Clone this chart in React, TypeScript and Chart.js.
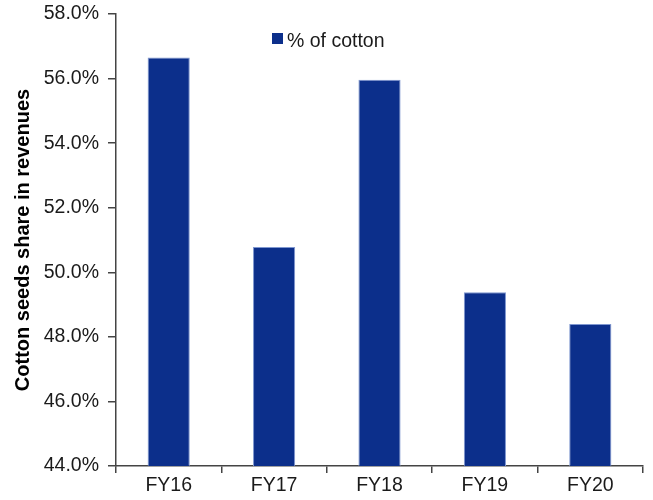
import React, { useEffect, useRef } from "react";
import { Chart, registerables } from "chart.js";

Chart.register(...registerables);

const categories = ["FY16", "FY17", "FY18", "FY19", "FY20"];
const cottonShare = [56.65, 50.78, 55.96, 49.38, 48.4];
const seriesLabel = "% of cotton";
const yTitle = "Cotton seeds share in revenues";

const FONT = "'Liberation Sans', Arial, sans-serif";
const BAR = "#0c2f8b";

const legendPlugin = {
  id: "customLegend",
  afterDraw(chart: any) {
    const ctx = chart.ctx;
    ctx.save();
    ctx.fillStyle = BAR;
    ctx.fillRect(272, 33, 11, 11);
    ctx.fillStyle = "#1a1a1a";
    ctx.font = `19.5px ${FONT}`;
    ctx.textBaseline = "alphabetic";
    ctx.textAlign = "left";
    ctx.fillText(seriesLabel, 287, 46.5);
    ctx.restore();
  },
};

export default function App() {
  const ref = useRef<HTMLCanvasElement>(null);
  useEffect(() => {
    if (!ref.current) return;
    const chart = new Chart(ref.current, {
      type: "bar",
      data: {
        labels: categories,
        datasets: [
          {
            label: seriesLabel,
            data: cottonShare,
            backgroundColor: BAR,
            borderColor: "#7f97d0",
            borderWidth: 1,
            categoryPercentage: 1,
            barPercentage: 0.4,
          },
        ],
      },
      options: {
        responsive: false,
        animation: false,
        maintainAspectRatio: false,
        layout: { padding: { top: 14, right: 10, left: 0, bottom: 0 } },
        plugins: { legend: { display: false }, tooltip: { enabled: false } },
        scales: {
          x: {
            grid: {
              drawOnChartArea: false,
              drawTicks: true,
              tickLength: 7,
              color: "#444",
              lineWidth: 1.5,
              offset: true,
            },
            border: { color: "#444", width: 1.5 },
            ticks: {
              color: "#1a1a1a",
              font: { family: FONT, size: 19.5 },
              padding: 1,
            },
            afterFit(scale: any) {
              scale.height = 34;
              scale.paddingLeft = 0;
              scale.paddingRight = 0;
            },
          },
          y: {
            min: 44,
            max: 58,
            grid: {
              drawOnChartArea: false,
              drawTicks: true,
              tickLength: 8,
              color: "#444",
              lineWidth: 1.5,
            },
            border: { color: "#444", width: 1.5 },
            ticks: {
              stepSize: 2,
              color: "#1a1a1a",
              font: { family: FONT, size: 19.5 },
              padding: 9,
              callback: (v: any) => Number(v).toFixed(1) + "%",
            },
            title: {
              display: true,
              text: yTitle,
              color: "#000",
              font: { family: FONT, size: 20, weight: "bold" },
              padding: { top: 11, bottom: 0 },
            },
            afterFit(scale: any) {
              scale.width = 116;
              scale.paddingTop = 0;
              scale.paddingBottom = 0;
            },
          },
        },
      },
      plugins: [legendPlugin],
    });
    return () => chart.destroy();
  }, []);
  return (
    <div style={{ position: "fixed", left: 0, top: 0, width: 653, height: 500, background: "#fff" }}>
      <canvas ref={ref} width={653} height={500} style={{ width: 653, height: 500 }} />
    </div>
  );
}
